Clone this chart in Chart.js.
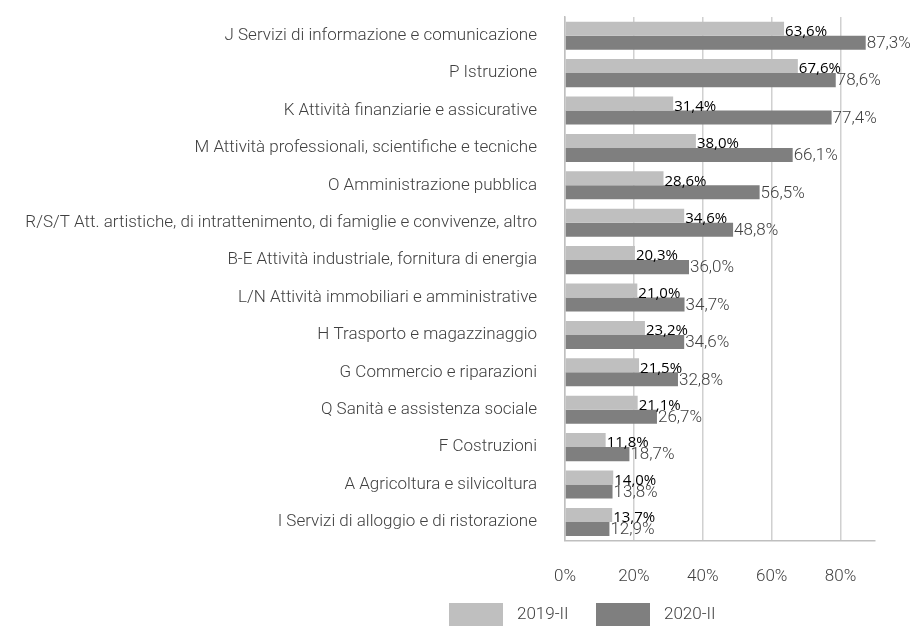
<!DOCTYPE html>
<html>
<head>
<meta charset="utf-8">
<script src="https://cdn.jsdelivr.net/npm/chart.js@4"></script>
<style>
  html, body { margin: 0; padding: 0; background: #fff; }
  #wrap { width: 913px; height: 626px; position: relative; }
</style>
</head>
<body>
<div id="wrap"><canvas id="diagram"></canvas></div>
<script>
const categories = [
    "J Servizi di informazione e comunicazione",
    "P Istruzione",
    "K Attività finanziarie e assicurative",
    "M Attività professionali, scientifiche e tecniche",
    "O Amministrazione pubblica",
    "R/S/T Att. artistiche, di intrattenimento, di famiglie e convivenze, altro",
    "B-E Attività industriale, fornitura di energia",
    "L/N Attività immobiliari e amministrative",
    "H Trasporto e magazzinaggio",
    "G Commercio e riparazioni",
    "Q Sanità e assistenza sociale",
    "F Costruzioni",
    "A Agricoltura e silvicoltura",
    "I Servizi di alloggio e di ristorazione",
];
const values2019 = [63.6, 67.6, 31.4, 38.0, 28.6, 34.6, 20.3, 21.0, 23.2, 21.5, 21.1, 11.8, 14.0, 13.7];
const values2020 = [87.3, 78.6, 77.4, 66.1, 56.5, 48.8, 36.0, 34.7, 34.6, 32.8, 26.7, 18.7, 13.8, 12.9];
const xTicks = [0, 20, 40, 60, 80];

const fmt = v => v.toFixed(1).replace(".", ",") + "%";

// bar-end value labels
const valueLabels = {
    id: "valueLabels",
    afterDatasetsDraw(chart) {
        const ctx = chart.ctx;
        ctx.save();
        ctx.textAlign = "left";
        ctx.textBaseline = "middle";
        chart.data.datasets.forEach((ds, i) => {
            const meta = chart.getDatasetMeta(i);
            meta.data.forEach((bar, j) => {
                if (i === 0) {
                    ctx.font = "15px 'Open Sans'";
                    ctx.fillStyle = "#000";
                    ctx.fillText(fmt(ds.data[j]), bar.x + 1, bar.y + 3);
                } else {
                    ctx.font = "300 17px Roboto";
                    ctx.fillStyle = "#404040";
                    ctx.fillText(fmt(ds.data[j]), bar.x + 1, bar.y + 1);
                }
            });
        });
        ctx.restore();
    }
};

// legend under the axis, drawn by hand so it can sit where the original has it
const bottomLegend = {
    id: "bottomLegend",
    afterDraw(chart) {
        const ctx = chart.ctx;
        const spots = [449, 596];
        ctx.save();
        ctx.font = "300 17px Roboto";
        ctx.textBaseline = "middle";
        ctx.textAlign = "left";
        chart.data.datasets.forEach((ds, i) => {
            const x = spots[i];
            ctx.fillStyle = ds.backgroundColor;
            ctx.fillRect(x, 603, 54, 23);
            ctx.fillStyle = "#404040";
            ctx.fillText(ds.label, x + 68, 615);
        });
        ctx.restore();
    }
};

new Chart(document.getElementById("diagram"), {
    type: "bar",
    data: {
        labels: categories,
        datasets: [
            {
                label: "2019-II",
                data: values2019,
                backgroundColor: "#bfbfbf",
                categoryPercentage: 0.75,
                barPercentage: 1,
            },
            {
                label: "2020-II",
                data: values2020,
                backgroundColor: "#7f7f7f",
                categoryPercentage: 0.75,
                barPercentage: 1,
            },
        ],
    },
    options: {
        indexAxis: "y",
        responsive: true,
        maintainAspectRatio: false,
        animation: false,
        layout: { padding: { top: 17, right: 38, bottom: 13, left: 0 } },
        plugins: {
            legend: { display: false },
            tooltip: { enabled: false },
        },
        scales: {
            x: {
                min: 0,
                max: 90,
                afterBuildTicks: s => { s.ticks = xTicks.map(v => ({ value: v })); },
                ticks: {
                    padding: 26,
                    color: "#404040",
                    font: { family: "Roboto", weight: 300, size: 17 },
                    callback: v => v + "%",
                },
                grid: { color: "#d0d0d0", lineWidth: 1.5, drawTicks: false },
                border: { color: "#bfbfbf", width: 1.5 },
            },
            y: {
                afterFit: s => {
                    s.width = 565;
                    s.paddingTop = 0;
                    s.paddingBottom = 0;
                },
                ticks: {
                    padding: 20,
                    color: "#404040",
                    font: { family: "Roboto", weight: 300, size: 17 },
                },
                grid: { display: false },
                border: { color: "#bfbfbf", width: 1.5 },
            },
        },
    },
    plugins: [valueLabels, bottomLegend],
});
</script>
</body>
</html>
